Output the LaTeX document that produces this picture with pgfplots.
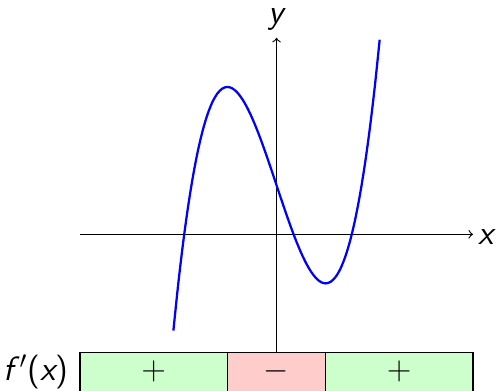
\documentclass[border=0pt]{standalone}
\usepackage{pgfplots}
\pgfplotsset{compat=1.18}
\begin{document}
\begin{tikzpicture}[every node/.style={font=\fontsize{15}{18}\selectfont}]
\begin{axis}[
  x=0.767cm, y=0.767cm,
  xmin=-4, xmax=4, ymin=-2.4, ymax=4,
  axis lines=middle,
  axis line style={->, line width=0.5pt},
  xtick=\empty, ytick=\empty,
  clip=false,
  xlabel={\sffamily\itshape x},
  ylabel={\sffamily\itshape y},
  label style={font=\fontsize{15}{18}\selectfont},
  xlabel style={anchor=west, at={(ticklabel* cs:1)}, xshift=-1pt, yshift=-1pt},
  ylabel style={anchor=south, at={(ticklabel* cs:1)}, inner sep=0pt, yshift=3pt},
]
\addplot[blue, line width=1pt, smooth, mark=none] coordinates {
(-2.1,-1.961) (-2.0,-1.000) (-1.9,-0.159) (-1.8,0.568) (-1.7,1.187)
(-1.6,1.704) (-1.5,2.125) (-1.4,2.456) (-1.3,2.703) (-1.2,2.872)
(-1.1,2.969) (-1.0,3.000) (-0.9,2.971) (-0.8,2.888) (-0.7,2.757)
(-0.6,2.584) (-0.5,2.375) (-0.4,2.136) (-0.3,1.873) (-0.2,1.592)
(-0.1,1.299) (0.0,1.000) (0.1,0.701) (0.2,0.408) (0.3,0.127)
(0.4,-0.136) (0.5,-0.375) (0.6,-0.584) (0.7,-0.757) (0.8,-0.888)
(0.9,-0.971) (1.0,-1.000) (1.1,-0.969) (1.2,-0.872) (1.3,-0.703)
(1.4,-0.456) (1.5,-0.125) (1.6,0.296) (1.7,0.813) (1.8,1.432)
(1.9,2.159) (2.0,3.000) (2.1,3.961)
};
% sign chart
\fill[green!20] (axis cs:-4,-2.4) rectangle (axis cs:-1,-3.2);
\fill[red!20] (axis cs:-1,-2.4) rectangle (axis cs:1,-3.2);
\fill[green!20] (axis cs:1,-2.4) rectangle (axis cs:4,-3.2);
\draw[line width=0.5pt] (axis cs:-4,-2.4) rectangle (axis cs:4,-3.2);
\draw[line width=0.5pt] (axis cs:-1,-2.4) -- (axis cs:-1,-3.2);
\draw[line width=0.5pt] (axis cs:1,-2.4) -- (axis cs:1,-3.2);
\node at (axis cs:-2.5,-2.8) {$+$};
\node at (axis cs:0,-2.8) {$-$};
\node at (axis cs:2.5,-2.8) {$+$};
\node[anchor=east, inner sep=5pt] at (axis cs:-4,-2.8) {\sffamily\itshape f\/\upshape$'$(\itshape x\upshape)};
\coordinate (bbll) at (axis cs:-5.63,-3.18);
\coordinate (bbur) at (axis cs:4.55,4.77);
\end{axis}
\pgfresetboundingbox
\path (bbll) rectangle (bbur);
\end{tikzpicture}
\end{document}
